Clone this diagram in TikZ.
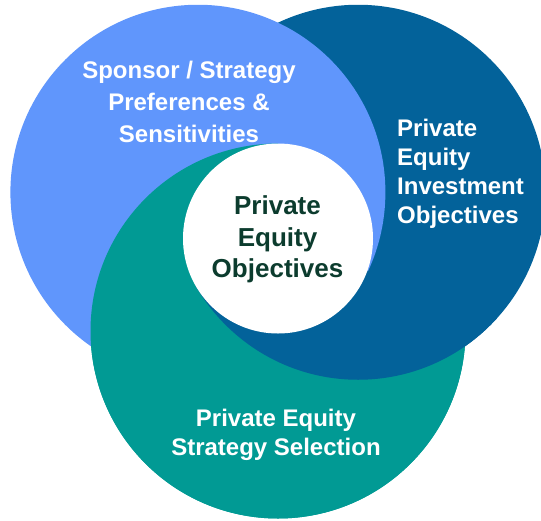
\documentclass[tikz,border=0pt]{standalone}
\usepackage{fontspec}
\setmainfont{Liberation Sans}
\definecolor{lightc}{RGB}{96,150,252}
\definecolor{darkc}{RGB}{3,98,154}
\definecolor{tealc}{RGB}{1,154,148}
\definecolor{textc}{RGB}{12,60,46}
\begin{document}
\begin{tikzpicture}[x=1pt,y=-1pt,
  outer/.style={text=white, font=\fontsize{24}{29}\selectfont\bfseries, inner sep=0pt, align=center},
  coretext/.style={text=textc, font=\fontsize{26}{31.5}\selectfont\bfseries, inner sep=0pt, align=center},
  corecircle/.style={circle, fill=white, minimum size=190pt, inner sep=0pt}]
\useasboundingbox (0,0) rectangle (541,520);
\clip (0,0) rectangle (541,520);
\def\R{187.5pt}
\coordinate (W) at (278,238.5);
\coordinate (L) at (197.9,192.25);
\coordinate (D) at (358.1,192.25);
\coordinate (T) at (278,331);
% base layers: teal, dark over teal, light over both
\fill[tealc] (T) circle[radius=\R];
\fill[darkc] (D) circle[radius=\R];
\fill[lightc] (L) circle[radius=\R];
% teal over light everywhere except the upper-right sector
\begin{scope}
  \clip[shift={(W)}] (0,0) -- (30:600) -- (90:600) -- (150:600) -- (210:600) -- (270:600) -- cycle;
  \fill[tealc] (T) circle[radius=\R];
\end{scope}
% dark over teal in the lower sector
\begin{scope}
  \clip[shift={(W)}] (0,0) -- (20:600) -- (90:600) -- (150:600) -- cycle;
  \fill[darkc] (D) circle[radius=\R];
\end{scope}
% centre
\node[corecircle] (core) at (W) {};
\node[coretext] (coretitle) at (277.5,239.3) {Private\\Equity\\Objectives};
\node[outer, font=\fontsize{24}{32}\selectfont\bfseries] (sponsor) at (189,102) {Sponsor / Strategy\\Preferences \&\\Sensitivities};
\node[outer, align=left, anchor=west] (invest) at (397,174) {Private\\Equity\\Investment\\Objectives};
\node[outer] (select) at (276,435) {Private Equity\\Strategy Selection};
\end{tikzpicture}
\end{document}
